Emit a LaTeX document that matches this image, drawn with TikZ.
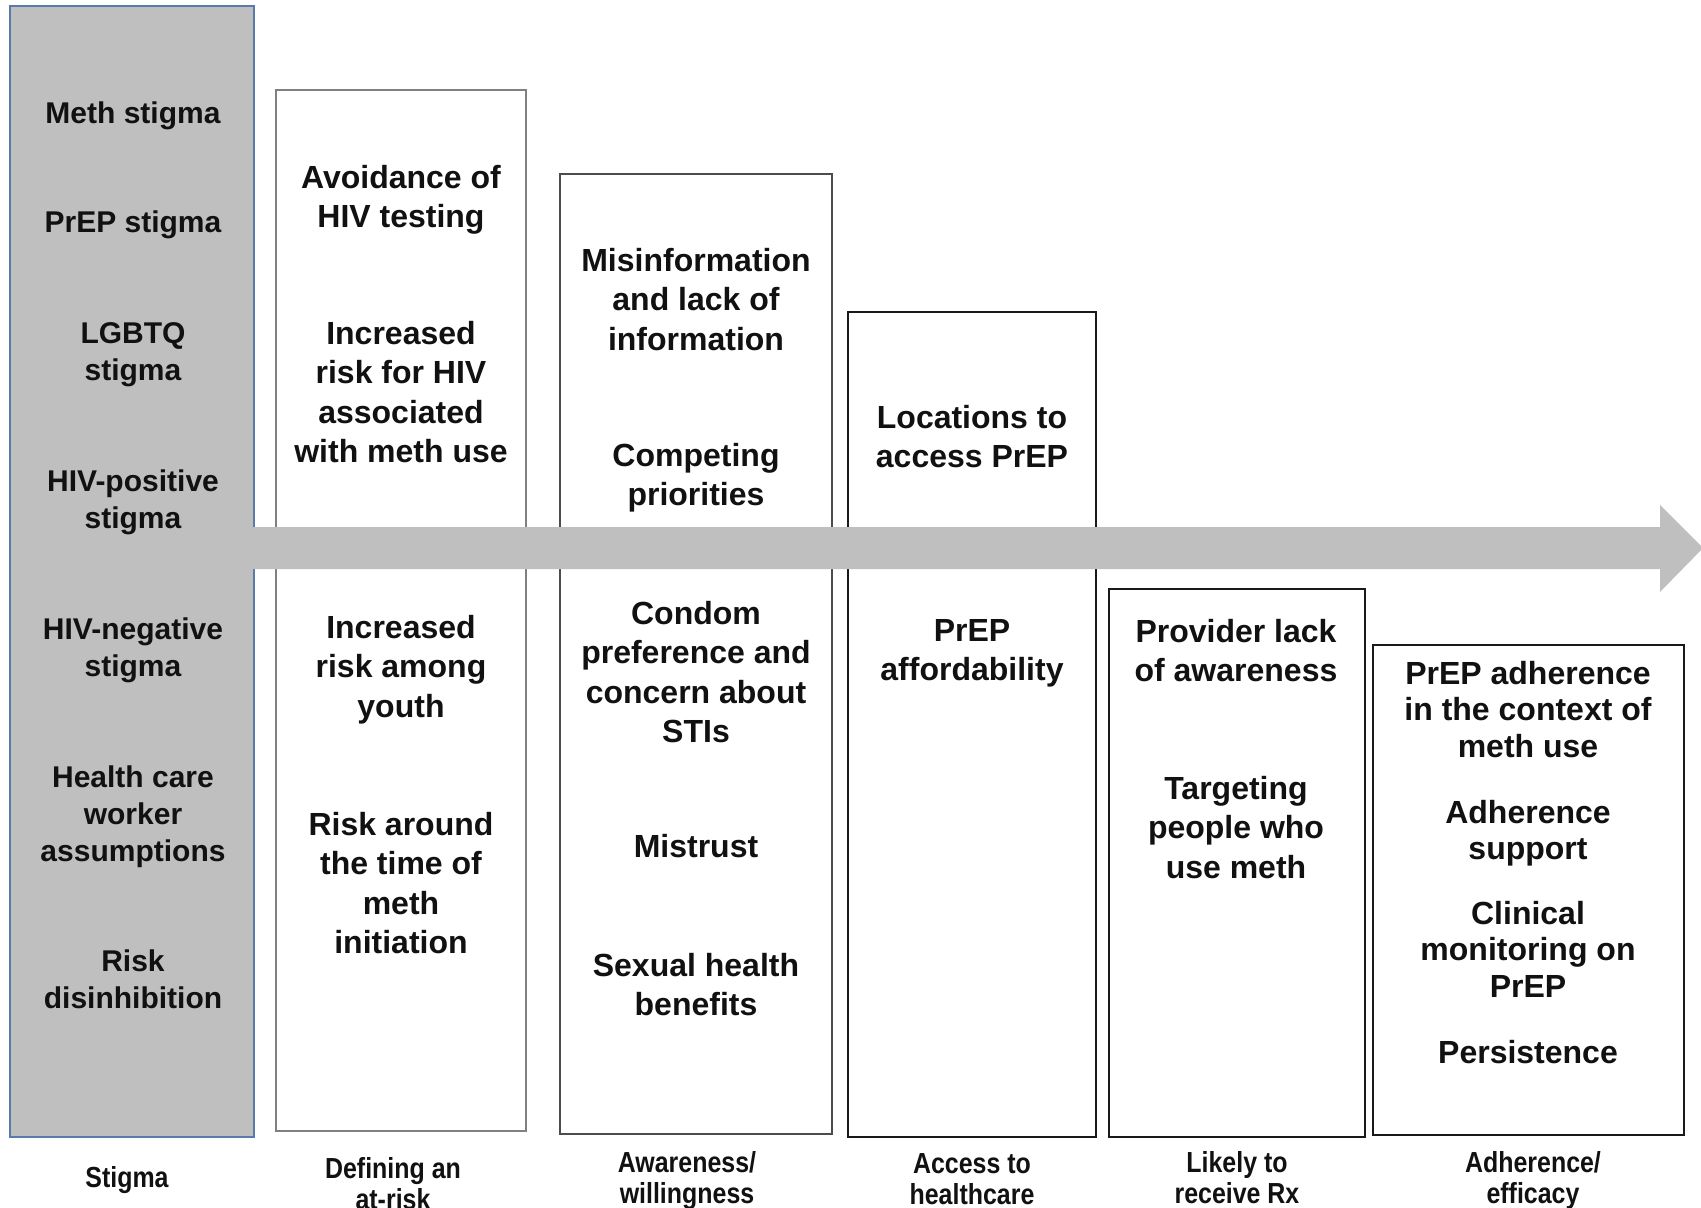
\documentclass[tikz,border=0pt]{standalone}
\usepackage{fontspec}
\setmainfont{Liberation Sans}
\newfontfamily\labfont[FakeStretch=0.86]{Liberation Sans}
\definecolor{arrowgray}{HTML}{BFBFBF}
\definecolor{stigmaedge}{HTML}{5A7AAE}
\definecolor{txtcol}{HTML}{111111}
\begin{document}
\begin{tikzpicture}[x=1pt,y=-1pt,
  txt/.style={anchor=north, inner sep=0pt, align=center, text=txtcol,
              font=\fontsize{32}{39.5}\selectfont\bfseries},
  txtb/.style={txt, font=\fontsize{32}{36.5}\selectfont\bfseries},
  stxt/.style={txt, font=\fontsize{30}{37}\selectfont\bfseries},
  lab/.style={anchor=north, inner sep=0pt, align=center, text=txtcol,
              font=\labfont\fontsize{29}{31}\selectfont\bfseries},
  col/.style={draw, line width=2pt, fill=white, inner sep=0pt, outer sep=0pt, anchor=north west}]
\useasboundingbox (0,0) rectangle (1701,1208);
\clip (0,0) rectangle (1701,1208);
\fill[white] (0,0) rectangle (1701,1208);

% columns
\node[col, draw=stigmaedge, fill=arrowgray, minimum width=244pt, minimum height=1131pt] (S) at (10,6) {};
\node[col, draw=black!50, minimum width=250pt, minimum height=1041pt] (B1) at (276,90) {};
\node[col, draw=black!70, minimum width=272pt, minimum height=960pt] (B2) at (560,174) {};
\node[col, draw=black!90, minimum width=248pt, minimum height=825pt] (B3) at (848,312) {};
\node[col, draw=black!90, minimum width=256pt, minimum height=548pt] (B4) at (1109,589) {};
\node[col, draw=black!90, minimum width=311pt, minimum height=490pt] (B5) at (1373,645) {};

% big arrow
\fill[arrowgray] (240,527) -- (1660,527) -- (1660,505) -- (1703,548) -- (1660,592) -- (1660,569) -- (240,569) -- cycle;

% stigma column
\node[stxt] (s1) at (133,102) {Meth stigma};
\node[stxt] (s2) at (133,211) {PrEP stigma};
\node[stxt] (s3) at (133,322) {LGBTQ\\stigma};
\node[stxt] (s4) at (133,470) {HIV-positive\\stigma};
\node[stxt] (s5) at (133,618) {HIV-negative\\stigma};
\node[stxt] (s6) at (133,766) {Health care\\worker\\assumptions};
\node[stxt] (s7) at (133,950) {Risk\\disinhibition};

% box 1
\node[txt] (a1) at (401,165) {Avoidance of\\HIV testing};
\node[txt] (a2) at (401,321) {Increased\\risk for HIV\\associated\\with meth use};
\node[txt] (a3) at (401,615) {Increased\\risk among\\youth};
\node[txt] (a4) at (401,812) {Risk around\\the time of\\meth\\initiation};

% box 2
\node[txt] (w1) at (696,248) {Misinformation\\and lack of\\information};
\node[txt] (w2) at (696,443) {Competing\\priorities};
\node[txt] (w3) at (696,601) {Condom\\preference and\\concern about\\STIs};
\node[txt] (w4) at (696,834) {Mistrust};
\node[txt] (w5) at (696,953) {Sexual health\\benefits};

% box 3
\node[txt] (h1) at (972,405) {Locations to\\access PrEP};
\node[txt] (h2) at (972,619) {PrEP\\affordability};

% box 4
\node[txt] (r1) at (1236,619) {Provider lack\\of awareness};
\node[txt] (r2) at (1236,776) {Targeting\\people who\\use meth};

% box 5
\node[txtb] (e1) at (1528,661) {PrEP adherence\\in the context of\\meth use};
\node[txtb] (e2) at (1528,800) {Adherence\\support};
\node[txtb] (e3) at (1528,901) {Clinical\\monitoring on\\PrEP};
\node[txtb] (e4) at (1528,1040) {Persistence};

% bottom labels
\node[lab] (l0) at (127,1166) {Stigma};
\node[lab] (l1) at (393,1157) {Defining an\\at-risk};
\node[lab] (l2) at (687,1151) {Awareness/\\willingness};
\node[lab] (l3) at (972,1153) {Access to\\healthcare};
\node[lab] (l4) at (1237,1151) {Likely to\\receive Rx};
\node[lab] (l5) at (1533,1151) {Adherence/\\efficacy};
\end{tikzpicture}
\end{document}
